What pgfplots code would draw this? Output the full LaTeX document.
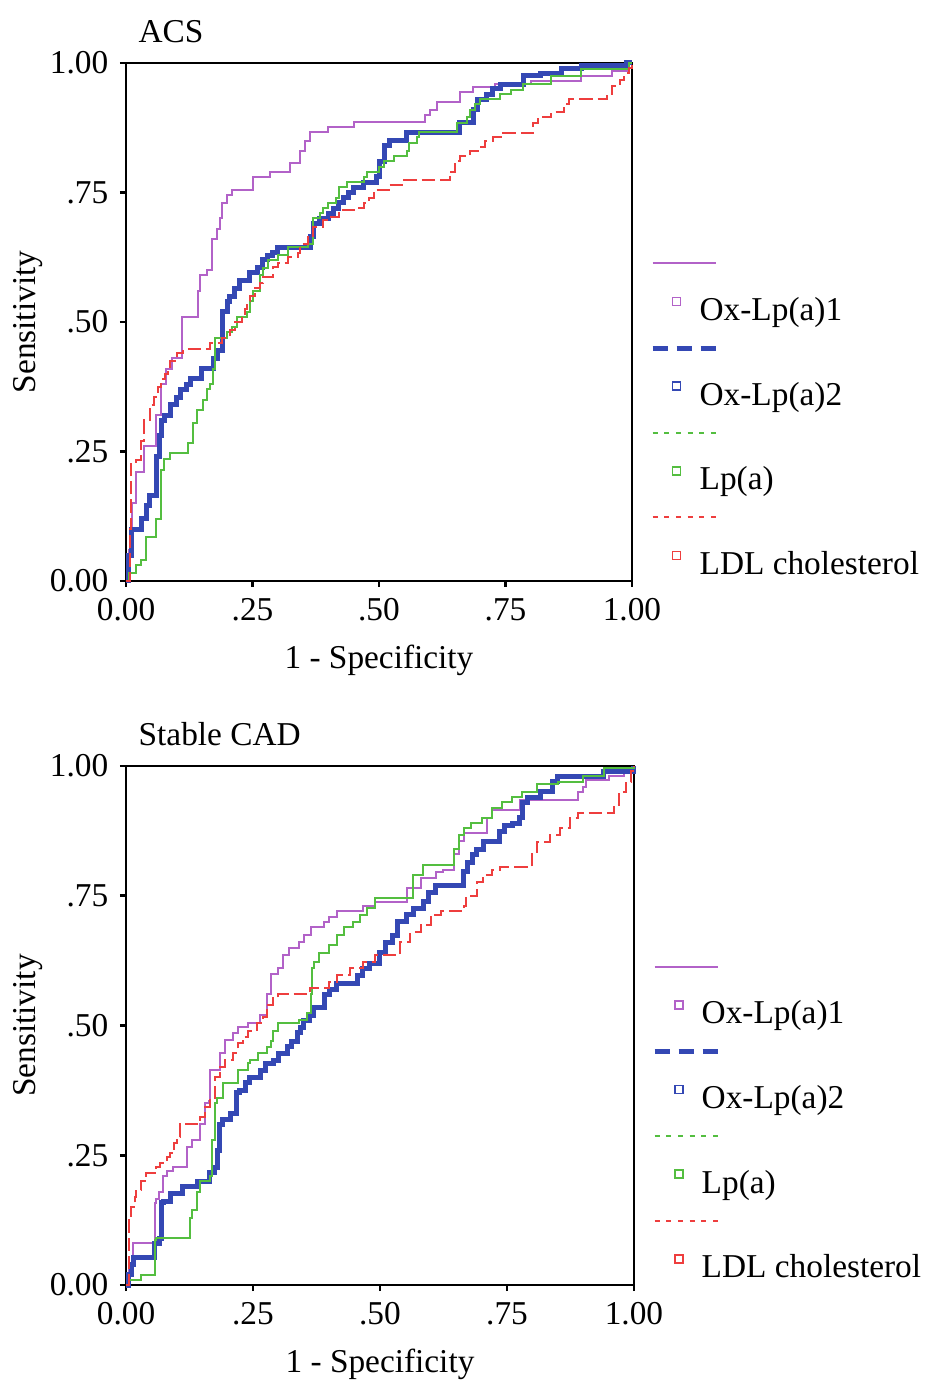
\documentclass[border=0pt]{standalone}
\usepackage{fontspec}
\setmainfont{Liberation Serif}
\usepackage{pgfplots}
\pgfplotsset{compat=1.18}

\definecolor{cox1}{RGB}{178,98,200}
\definecolor{cox2}{RGB}{52,72,180}
\definecolor{clpa}{RGB}{84,190,64}
\definecolor{cldl}{RGB}{238,62,62}

\pgfplotsset{
  roc/.style={
    scale only axis,
    xmin=0, xmax=1, ymin=0, ymax=1,
    xtick={0,0.25,0.5,0.75,1}, ytick={0,0.25,0.5,0.75,1},
    xticklabels={0.00,.25,.50,.75,1.00},
    yticklabels={0.00,.25,.50,.75,1.00},
    xtick pos=bottom, ytick pos=left,
    tick align=outside, major tick length=1.8pt,
    axis line style={line width=0.8pt},
    every tick/.style={black, line width=0.8pt},
    tick label style={font=\fontsize{10}{12}\selectfont},
    label style={font=\fontsize{10}{12}\selectfont},
    xlabel={1 - Specificity}, ylabel={Sensitivity},
    xlabel style={at={(axis description cs:0.5,0)}, anchor=north, yshift=-18.9pt, inner sep=0pt},
    ylabel style={at={(axis description cs:-0.193,0.5)}, anchor=center, inner sep=0pt},
    every axis title shift=0pt,
    title style={at={(axis description cs:0,1)}, anchor=base west, xshift=3.6pt, yshift=6.1pt,
                 inner sep=0pt, font=\fontsize{10}{12}\selectfont},
    clip=false,
    legend style={at={(1.0395,0.6376)}, anchor=north west, draw=none, fill=none, inner sep=0pt,
       row sep=1.7pt, column sep=3.1pt,
       nodes={inner sep=1pt, text height=7pt, text depth=2pt, font=\fontsize{10}{12}\selectfont},
       cells={anchor=west}},
  },
  lineimg/.style={legend image code/.code={\draw[##1,overlay] (0pt,1.9pt) -- (19pt,1.9pt); \path[draw=none,fill=none] (0pt,0pt) -- (10pt,0pt);}},
  markimg/.style={legend image code/.code={\draw[##1,only marks] plot coordinates {(7.2pt,3.2pt)}; \path[draw=none,fill=none] (0pt,0pt) -- (10pt,0pt);}},
}

\begin{document}
\begin{tikzpicture}
\path[use as bounding box] (0,0) rectangle (278.4pt,415.5pt);

% ACS
\begin{axis}[roc, at={(37.8pt,241.2pt)}, anchor=south west,
  width=151.8pt, height=155.4pt, title={ACS}]
\addplot[cox1, line width=0.6pt, const plot, forget plot] coordinates {
(0,0)(0.005,0.06)(0.012,0.15)(0.02,0.21)(0.035,0.26)(0.06,0.32)(0.07,0.38)(0.08,0.41)(0.09,0.43)
(0.11,0.51)(0.142,0.56)(0.146,0.59)(0.16,0.60)(0.17,0.66)(0.18,0.68)(0.186,0.70)(0.19,0.73)
(0.20,0.745)(0.21,0.755)(0.25,0.78)(0.285,0.79)(0.325,0.807)(0.344,0.83)(0.354,0.85)(0.364,0.867)
(0.40,0.877)(0.45,0.886)(0.59,0.90)(0.60,0.91)(0.615,0.925)(0.66,0.944)(0.686,0.954)(0.73,0.96)
(0.80,0.965)(0.90,0.975)(0.96,0.985)(0.99,1)(1,1)};
\addplot[cox2, line width=1.5pt, const plot, forget plot] coordinates {
(0,0)(0.005,0.05)(0.01,0.10)(0.03,0.12)(0.04,0.145)(0.047,0.165)(0.06,0.24)(0.067,0.28)(0.07,0.31)
(0.077,0.32)(0.087,0.34)(0.1,0.355)(0.107,0.37)(0.12,0.38)(0.127,0.39)(0.15,0.41)(0.172,0.43)
(0.18,0.445)(0.19,0.52)(0.20,0.54)(0.205,0.55)(0.215,0.565)(0.225,0.58)(0.245,0.595)(0.26,0.605)
(0.27,0.62)(0.28,0.628)(0.29,0.635)(0.30,0.644)(0.364,0.665)(0.37,0.69)(0.383,0.70)(0.40,0.71)
(0.41,0.72)(0.42,0.73)(0.43,0.74)(0.44,0.75)(0.45,0.76)(0.47,0.77)(0.495,0.78)(0.50,0.81)
(0.51,0.84)(0.52,0.85)(0.555,0.865)(0.66,0.885)(0.686,0.91)(0.695,0.93)(0.713,0.94)(0.725,0.95)
(0.74,0.958)(0.785,0.975)(0.82,0.98)(0.86,0.99)(0.90,0.995)(0.99,1)(1,1)};
\addplot[clpa, line width=0.6pt, const plot, forget plot] coordinates {
(0,0)(0.005,0.015)(0.02,0.03)(0.03,0.04)(0.04,0.085)(0.06,0.12)(0.07,0.215)(0.075,0.235)(0.087,0.247)
(0.123,0.266)(0.133,0.305)(0.14,0.33)(0.152,0.35)(0.16,0.37)(0.166,0.38)(0.172,0.41)(0.176,0.47)
(0.20,0.48)(0.21,0.49)(0.22,0.51)(0.24,0.52)(0.245,0.54)(0.25,0.56)(0.265,0.59)(0.27,0.605)
(0.28,0.62)(0.30,0.63)(0.32,0.645)(0.36,0.65)(0.37,0.70)(0.383,0.71)(0.39,0.72)(0.40,0.73)
(0.415,0.74)(0.42,0.76)(0.436,0.77)(0.47,0.78)(0.476,0.79)(0.50,0.80)(0.51,0.81)(0.53,0.82)
(0.555,0.83)(0.56,0.845)(0.575,0.857)(0.58,0.867)(0.654,0.885)(0.674,0.895)(0.68,0.91)(0.69,0.92)
(0.70,0.93)(0.74,0.94)(0.76,0.948)(0.785,0.96)(0.84,0.975)(0.90,0.988)(0.995,1)(1,1)};
\addplot[cldl, line width=0.6pt, dash pattern=on 4pt off 1.5pt, const plot, forget plot] coordinates {
(0,0)(0.008,0.10)(0.01,0.23)(0.02,0.234)(0.03,0.27)(0.035,0.31)(0.047,0.34)(0.055,0.355)(0.063,0.375)
(0.07,0.39)(0.077,0.40)(0.083,0.41)(0.087,0.425)(0.1,0.44)(0.113,0.447)(0.166,0.46)(0.19,0.47)
(0.205,0.485)(0.215,0.50)(0.23,0.51)(0.235,0.525)(0.24,0.54)(0.245,0.55)(0.255,0.565)(0.265,0.575)
(0.27,0.587)(0.29,0.606)(0.30,0.614)(0.32,0.625)(0.34,0.633)(0.344,0.65)(0.36,0.664)(0.37,0.683)
(0.39,0.697)(0.403,0.703)(0.42,0.716)(0.45,0.72)(0.47,0.73)(0.48,0.74)(0.49,0.755)(0.52,0.765)
(0.55,0.774)(0.64,0.79)(0.65,0.81)(0.66,0.82)(0.68,0.83)(0.70,0.838)(0.71,0.85)(0.725,0.857)
(0.745,0.865)(0.805,0.885)(0.815,0.895)(0.84,0.905)(0.865,0.92)(0.875,0.93)(0.95,0.94)(0.96,0.955)
(0.976,0.967)(0.985,0.98)(0.995,0.99)(1,1)};
\addlegendimage{lineimg, cox1, line width=0.6pt}\addlegendentry{\mbox{}}
\addlegendimage{markimg, cox1, mark=square, mark size=1.2pt, mark options={line width=0.5pt}}\addlegendentry{Ox-Lp(a)1}
\addlegendimage{lineimg, cox2, line width=1.5pt, dash pattern=on 4.5pt off 2.7pt}\addlegendentry{\mbox{}}
\addlegendimage{markimg, cox2, mark=square, mark size=1.2pt, mark options={line width=0.5pt}}\addlegendentry{Ox-Lp(a)2}
\addlegendimage{lineimg, clpa, line width=0.6pt, dash pattern=on 1.5pt off 2pt}\addlegendentry{\mbox{}}
\addlegendimage{markimg, clpa, mark=square, mark size=1.2pt, mark options={line width=0.5pt}}\addlegendentry{Lp(a)}
\addlegendimage{lineimg, cldl, line width=0.6pt, dash pattern=on 1.5pt off 2pt}\addlegendentry{\mbox{}}
\addlegendimage{markimg, cldl, mark=square, mark size=1.2pt, mark options={line width=0.5pt}}\addlegendentry{LDL cholesterol}
\end{axis}

% Stable CAD
\begin{axis}[roc, at={(37.8pt,30pt)}, anchor=south west,
  width=152.4pt, height=155.7pt, title={Stable CAD}]
\addplot[cox1, line width=0.6pt, const plot, forget plot] coordinates {
(0,0)(0.005,0.03)(0.014,0.08)(0.057,0.158)(0.06,0.165)(0.065,0.18)(0.073,0.21)(0.08,0.22)(0.093,0.227)
(0.12,0.266)(0.13,0.28)(0.146,0.31)(0.155,0.35)(0.163,0.355)(0.166,0.414)(0.185,0.447)(0.195,0.472)
(0.21,0.486)(0.22,0.497)(0.24,0.505)(0.264,0.52)(0.277,0.56)(0.285,0.60)(0.30,0.61)(0.31,0.635)
(0.32,0.65)(0.34,0.66)(0.35,0.674)(0.365,0.69)(0.39,0.70)(0.40,0.71)(0.415,0.72)(0.467,0.73)
(0.49,0.737)(0.553,0.765)(0.58,0.784)(0.61,0.795)(0.625,0.80)(0.645,0.83)(0.655,0.855)(0.665,0.87)
(0.71,0.90)(0.72,0.915)(0.775,0.935)(0.89,0.95)(0.90,0.96)(0.905,0.973)(0.95,0.98)(0.98,0.99)(1,1)};
\addplot[cox2, line width=1.5pt, const plot, forget plot] coordinates {
(0,0)(0.005,0.02)(0.01,0.04)(0.014,0.053)(0.057,0.08)(0.065,0.09)(0.07,0.158)(0.073,0.16)(0.087,0.177)
(0.112,0.19)(0.14,0.20)(0.165,0.216)(0.175,0.227)(0.18,0.26)(0.185,0.31)(0.19,0.318)(0.205,0.33)
(0.218,0.37)(0.224,0.375)(0.235,0.39)(0.244,0.40)(0.264,0.414)(0.275,0.427)(0.29,0.433)(0.30,0.447)
(0.317,0.46)(0.325,0.47)(0.337,0.486)(0.343,0.497)(0.35,0.51)(0.362,0.52)(0.37,0.534)(0.39,0.56)
(0.40,0.57)(0.415,0.58)(0.455,0.597)(0.465,0.61)(0.48,0.62)(0.50,0.64)(0.51,0.66)(0.525,0.674)
(0.535,0.70)(0.553,0.713)(0.565,0.726)(0.585,0.738)(0.595,0.757)(0.61,0.77)(0.665,0.796)(0.673,0.815)
(0.683,0.83)(0.69,0.84)(0.703,0.854)(0.736,0.873)(0.745,0.886)(0.76,0.89)(0.775,0.90)(0.78,0.93)
(0.79,0.94)(0.815,0.95)(0.84,0.97)(0.85,0.98)(0.94,0.99)(1,1)};
\addplot[clpa, line width=0.6pt, const plot, forget plot] coordinates {
(0,0)(0.005,0.01)(0.03,0.02)(0.057,0.087)(0.06,0.09)(0.126,0.13)(0.13,0.145)(0.14,0.18)(0.146,0.20)
(0.165,0.21)(0.17,0.28)(0.175,0.35)(0.18,0.36)(0.19,0.39)(0.22,0.414)(0.24,0.427)(0.244,0.433)
(0.26,0.447)(0.277,0.458)(0.285,0.47)(0.29,0.49)(0.30,0.505)(0.34,0.51)(0.356,0.524)(0.364,0.56)
(0.367,0.61)(0.37,0.622)(0.38,0.64)(0.40,0.655)(0.415,0.674)(0.43,0.69)(0.447,0.70)(0.46,0.713)
(0.474,0.726)(0.49,0.746)(0.565,0.79)(0.585,0.81)(0.645,0.84)(0.655,0.867)(0.665,0.88)(0.68,0.89)
(0.70,0.90)(0.72,0.92)(0.74,0.93)(0.76,0.94)(0.78,0.95)(0.81,0.965)(0.85,0.97)(0.90,0.98)(0.94,0.997)(1,1)};
\addplot[cldl, line width=0.6pt, dash pattern=on 4pt off 1.5pt, const plot, forget plot] coordinates {
(0,0)(0.005,0.125)(0.01,0.15)(0.018,0.17)(0.02,0.183)(0.03,0.20)(0.04,0.216)(0.06,0.227)(0.067,0.235)
(0.08,0.247)(0.087,0.254)(0.095,0.274)(0.10,0.285)(0.106,0.31)(0.146,0.324)(0.155,0.343)(0.165,0.36)
(0.175,0.40)(0.185,0.42)(0.195,0.433)(0.21,0.447)(0.22,0.466)(0.23,0.478)(0.24,0.49)(0.257,0.505)
(0.27,0.516)(0.277,0.54)(0.29,0.553)(0.30,0.56)(0.362,0.572)(0.40,0.584)(0.415,0.597)(0.44,0.61)
(0.467,0.622)(0.49,0.636)(0.54,0.66)(0.56,0.68)(0.58,0.694)(0.60,0.713)(0.62,0.72)(0.665,0.73)
(0.67,0.75)(0.69,0.776)(0.703,0.79)(0.72,0.80)(0.736,0.806)(0.80,0.834)(0.81,0.854)(0.835,0.867)
(0.855,0.88)(0.874,0.90)(0.89,0.91)(0.96,0.925)(0.97,0.95)(0.985,0.97)(0.995,0.99)(1,1)};
\addlegendimage{lineimg, cox1, line width=0.6pt}\addlegendentry{\mbox{}}
\addlegendimage{markimg, cox1, mark=square, mark size=1.2pt, mark options={line width=0.5pt}}\addlegendentry{Ox-Lp(a)1}
\addlegendimage{lineimg, cox2, line width=1.5pt, dash pattern=on 4.5pt off 2.7pt}\addlegendentry{\mbox{}}
\addlegendimage{markimg, cox2, mark=square, mark size=1.2pt, mark options={line width=0.5pt}}\addlegendentry{Ox-Lp(a)2}
\addlegendimage{lineimg, clpa, line width=0.6pt, dash pattern=on 1.5pt off 2pt}\addlegendentry{\mbox{}}
\addlegendimage{markimg, clpa, mark=square, mark size=1.2pt, mark options={line width=0.5pt}}\addlegendentry{Lp(a)}
\addlegendimage{lineimg, cldl, line width=0.6pt, dash pattern=on 1.5pt off 2pt}\addlegendentry{\mbox{}}
\addlegendimage{markimg, cldl, mark=square, mark size=1.2pt, mark options={line width=0.5pt}}\addlegendentry{LDL cholesterol}
\end{axis}
\end{tikzpicture}
\end{document}
